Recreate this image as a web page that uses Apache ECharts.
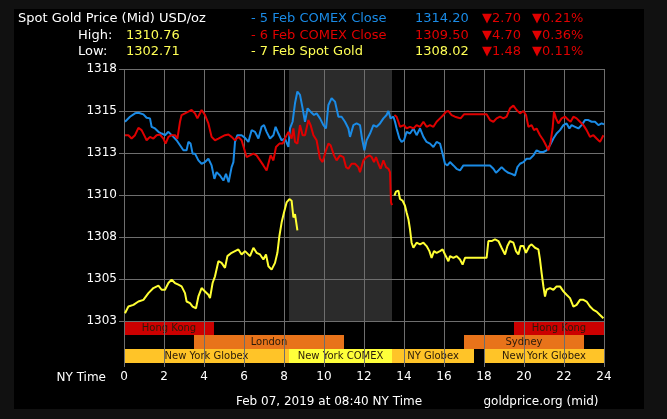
<!DOCTYPE html>
<html>
<head>
<meta charset="utf-8">
<script src="https://cdn.jsdelivr.net/npm/echarts@6/dist/echarts.min.js"></script>
<style>
html,body{margin:0;padding:0;background:#111111;}
#frame{position:absolute;left:14px;top:9px;width:630px;height:400px;background:#000;}
#chart{position:absolute;left:0;top:0;width:667px;height:419px;}
</style>
</head>
<body>
<div id="frame"></div>
<div id="chart"></div>
<script>
// ---- data ----
const hourTicks = [0,2,4,6,8,10,12,14,16,18,20,22,24];
const comex5Feb = [[0.05,1314.36],[0.3,1314.66],[0.55,1314.86],[0.72,1314.9],[0.97,1314.8],[1.13,1314.6],[1.3,1314.56],[1.38,1314.06],[1.55,1313.96],[1.72,1313.76],[1.88,1313.66],[2.05,1313.56],[2.22,1313.76],[2.47,1313.46],[2.63,1313.26],[2.8,1312.96],[2.97,1312.66],[3.13,1312.66],[3.22,1313.16],[3.33,1313.06],[3.43,1312.46],[3.55,1312.46],[3.72,1312.06],[3.88,1311.86],[4.05,1311.96],[4.22,1312.16],[4.38,1311.76],[4.52,1310.96],[4.63,1311.36],[4.8,1311.16],[4.97,1310.86],[5.1,1311.26],[5.23,1310.76],[5.38,1311.66],[5.47,1311.96],[5.55,1313.16],[5.67,1313.56],[5.88,1313.56],[6.05,1313.4],[6.22,1313.16],[6.38,1313.86],[6.55,1313.76],[6.72,1313.36],[6.88,1314.06],[7.0,1314.16],[7.13,1313.76],[7.3,1313.36],[7.47,1313.56],[7.58,1314.06],[7.72,1313.66],[7.88,1313.26],[8.05,1313.36],[8.22,1312.86],[8.3,1313.96],[8.43,1314.36],[8.55,1315.46],[8.67,1316.16],[8.8,1315.96],[8.93,1315.16],[9.05,1314.36],[9.18,1315.16],[9.33,1314.96],[9.5,1314.76],[9.63,1314.86],[9.8,1314.56],[9.97,1314.16],[10.1,1313.96],[10.22,1315.36],[10.38,1315.76],[10.55,1315.56],[10.72,1314.66],[10.88,1314.66],[11.05,1314.36],[11.22,1313.96],[11.3,1313.46],[11.47,1314.16],[11.63,1314.26],[11.8,1314.16],[11.9,1313.36],[12.02,1312.66],[12.13,1313.26],[12.3,1313.66],[12.47,1314.16],[12.63,1314.06],[12.8,1314.26],[12.97,1314.56],[13.13,1314.76],[13.22,1315.0],[13.33,1314.56],[13.47,1314.66],[13.55,1314.36],[13.63,1313.96],[13.77,1313.36],[13.88,1313.16],[14.0,1313.26],[14.13,1313.76],[14.3,1313.66],[14.47,1313.96],[14.63,1313.56],[14.8,1313.96],[14.97,1313.46],[15.13,1313.16],[15.3,1313.06],[15.47,1312.86],[15.63,1313.16],[15.8,1313.06],[15.93,1312.46],[16.05,1311.86],[16.17,1311.76],[16.3,1311.96],[16.47,1311.76],[16.63,1311.56],[16.8,1311.46],[16.97,1311.76],[18.13,1311.76],[18.3,1311.76],[18.47,1311.56],[18.6,1311.32],[18.72,1311.46],[18.88,1311.66],[19.05,1311.46],[19.22,1311.32],[19.38,1311.26],[19.55,1311.16],[19.67,1311.66],[19.8,1311.86],[19.97,1311.96],[20.13,1312.16],[20.3,1312.16],[20.47,1312.36],[20.63,1312.66],[20.8,1312.56],[20.97,1312.56],[21.13,1312.66],[21.3,1312.96],[21.47,1313.36],[21.63,1313.66],[21.8,1313.86],[21.97,1314.16],[22.13,1314.26],[22.27,1313.96],[22.38,1314.16],[22.55,1314.06],[22.72,1313.96],[22.88,1314.16],[23.05,1314.46],[23.22,1314.46],[23.38,1314.36],[23.55,1314.36],[23.72,1314.16],[23.88,1314.26],[24,1314.2]];
const comex6FebA = [[0.05,1313.56],[0.22,1313.56],[0.38,1313.36],[0.55,1313.56],[0.72,1314.0],[0.88,1313.86],[1.05,1313.46],[1.13,1313.26],[1.3,1313.46],[1.47,1313.36],[1.63,1313.56],[1.8,1313.6],[1.97,1313.36],[2.08,1313.06],[2.22,1313.46],[2.38,1313.56],[2.55,1313.56],[2.67,1313.36],[2.8,1314.36],[2.88,1314.76],[3.05,1314.86],[3.22,1314.96],[3.38,1315.06],[3.55,1314.86],[3.67,1314.56],[3.88,1315.06],[4.05,1314.76],[4.22,1314.26],[4.38,1313.46],[4.55,1313.26],[4.72,1313.36],[4.88,1313.46],[5.05,1313.56],[5.22,1313.6],[5.38,1313.46],[5.55,1313.26],[5.72,1313.46],[5.88,1313.26],[5.97,1313.36],[6.13,1312.26],[6.3,1312.36],[6.47,1312.46],[6.63,1312.36],[6.8,1312.06],[6.97,1311.76],[7.13,1311.46],[7.22,1311.36],[7.33,1312.36],[7.47,1312.06],[7.6,1312.86],[7.77,1313.06],[7.93,1313.06],[8.05,1313.36],[8.22,1313.76],[8.38,1313.36],[8.47,1313.96],[8.55,1313.16],[8.67,1313.06],[8.8,1314.16],[8.93,1313.56],[9.05,1313.56],[9.22,1314.46],[9.33,1314.16],[9.47,1313.56],[9.63,1313.26],[9.8,1312.16],[9.93,1311.96],[10.1,1312.66],[10.22,1313.06],[10.33,1312.96],[10.5,1312.36],[10.63,1312.06],[10.8,1312.36],[10.97,1312.26],[11.1,1311.66],[11.22,1311.56],[11.38,1311.86],[11.55,1311.86],[11.72,1311.66],[11.8,1311.36],[11.97,1312.06],[12.13,1312.26],[12.27,1312.36],[12.38,1312.26],[12.5,1311.96],[12.6,1312.26],[12.72,1311.86],[12.83,1311.56],[12.97,1312.06],[13.1,1311.66],[13.22,1311.56],[13.3,1311.36],[13.35,1309.56],[13.4,1309.4]];
const comex6FebB = [[13.52,1314.76],[13.63,1314.66],[13.72,1314.36],[13.8,1314.06],[13.88,1313.96],[14.0,1314.16],[14.13,1313.96],[14.3,1314.06],[14.47,1313.96],[14.63,1314.16],[14.8,1314.06],[14.97,1314.36],[15.13,1314.06],[15.3,1314.16],[15.47,1314.06],[15.63,1314.36],[15.8,1314.56],[15.97,1314.76],[16.1,1314.96],[16.22,1315.0],[16.38,1314.76],[16.55,1314.66],[16.72,1314.6],[16.83,1314.56],[17.0,1314.8],[18.13,1314.8],[18.3,1314.46],[18.47,1314.36],[18.63,1314.56],[18.8,1314.66],[18.97,1314.56],[19.13,1314.66],[19.3,1315.16],[19.47,1315.32],[19.63,1315.06],[19.8,1314.86],[19.97,1315.0],[20.1,1314.76],[20.22,1314.06],[20.38,1314.16],[20.5,1313.86],[20.63,1313.96],[20.8,1313.56],[20.97,1313.26],[21.1,1312.96],[21.22,1312.66],[21.33,1313.16],[21.43,1313.96],[21.5,1314.96],[21.6,1314.56],[21.72,1314.26],[21.88,1314.56],[22.05,1314.66],[22.22,1314.46],[22.33,1314.36],[22.47,1314.66],[22.63,1314.56],[22.8,1314.36],[22.97,1314.16],[23.13,1313.86],[23.3,1313.46],[23.47,1313.56],[23.63,1313.36],[23.8,1313.16],[23.97,1313.56]];
const spot7FebA = [[0.05,1302.96],[0.22,1303.36],[0.47,1303.46],[0.72,1303.66],[0.97,1303.76],[1.22,1304.16],[1.47,1304.46],[1.72,1304.6],[1.88,1304.36],[2.05,1304.36],[2.22,1304.76],[2.38,1304.96],[2.55,1304.76],[2.72,1304.66],[2.88,1304.56],[3.05,1304.16],[3.13,1303.66],[3.3,1303.56],[3.43,1303.36],[3.6,1303.26],[3.72,1303.96],[3.88,1304.46],[4.05,1304.26],[4.22,1304.06],[4.3,1303.86],[4.43,1304.76],[4.55,1305.16],[4.72,1306.06],[4.88,1305.96],[5.05,1305.66],[5.17,1306.36],[5.38,1306.56],[5.55,1306.66],[5.72,1306.76],[5.88,1306.46],[6.05,1306.66],[6.13,1306.56],[6.3,1306.36],[6.47,1306.86],[6.63,1306.56],[6.8,1306.46],[6.97,1306.16],[7.1,1306.46],[7.22,1305.76],[7.38,1305.56],[7.55,1305.96],[7.67,1306.56],[7.77,1307.56],[7.88,1308.36],[8.0,1308.96],[8.13,1309.56],[8.27,1309.76],[8.38,1309.66],[8.47,1308.66],[8.55,1308.86],[8.67,1307.9]];
const spot7FebB = [[13.52,1309.96],[13.6,1310.2],[13.72,1310.26],[13.8,1309.76],[13.93,1309.66],[14.05,1309.36],[14.13,1308.96],[14.22,1308.56],[14.3,1307.96],[14.38,1307.16],[14.47,1306.86],[14.63,1307.16],[14.8,1307.06],[14.97,1307.16],[15.13,1306.96],[15.27,1306.66],[15.38,1306.26],[15.5,1306.66],[15.63,1306.56],[15.8,1306.66],[15.93,1306.76],[16.05,1306.46],[16.22,1306.06],[16.3,1306.36],[16.47,1306.26],[16.63,1306.36],[16.8,1306.16],[16.93,1305.86],[17.05,1306.26],[18.13,1306.26],[18.22,1307.26],[18.38,1307.26],[18.55,1307.36],[18.72,1307.26],[18.88,1306.86],[19.05,1306.46],[19.17,1306.96],[19.3,1307.26],[19.47,1307.16],[19.6,1306.66],[19.72,1306.46],[19.83,1306.96],[19.97,1306.96],[20.1,1306.56],[20.27,1306.96],[20.38,1307.06],[20.55,1306.86],[20.72,1306.76],[20.8,1306.16],[20.88,1305.36],[20.97,1304.56],[21.05,1303.96],[21.13,1304.36],[21.3,1304.46],[21.47,1304.36],[21.63,1304.56],[21.8,1304.56],[21.97,1304.26],[22.13,1304.06],[22.3,1303.86],[22.47,1303.36],[22.63,1303.46],[22.8,1303.76],[22.97,1303.76],[23.13,1303.66],[23.3,1303.36],[23.47,1303.16],[23.63,1303.06],[23.8,1302.86],[23.97,1302.66]];
const comexSession = [8.25, 13.4];
const sessionNames = ['Hong Kong','Hong Kong','London','Sydney','New York Globex','New York COMEX','NY Globex','New York Globex'];
const sessionStart = [0, 19.5, 3.5, 17, 0, 8.25, 13.4, 18];
const sessionEnd   = [4.5, 24, 11, 23, 8.25, 13.4, 17.5, 24];
const sessionRow   = [2, 2, 1, 1, 0, 0, 0, 0];
const yMin = 1302.5, yMax = 1317.5, yStep = 2.5;

// ---- styles ----
const FONT = '"DejaVu Sans", Verdana, sans-serif';
const gridColor = '#6e6e6e';
const BLUE = '#1a8be6', RED = '#e00000', YEL = '#ffff33';
const sessionColor = {'Hong Kong':'#cc0000','London':'#e8731a','Sydney':'#e8731a','New York Globex':'#ffc428','NY Globex':'#ffc428','New York COMEX':'#ffff3a'};

const chart = echarts.init(document.getElementById('chart'), null, {renderer:'canvas'});

function txt(x, y, text, fill, size, align) {
  return {type:'text', x:x, y:y, silent:true, z:10,
    style:{text:text, fill:fill, font: size + 'px ' + FONT, align: align || 'left', verticalAlign:'middle'}};
}

const header = [
  txt(18, 19, 'Spot Gold Price (Mid) USD/oz', '#ffffff', 13),
  txt(78, 35.5, 'High:', '#ffffff', 13),
  txt(126, 35.5, '1310.76', '#ffff55', 13),
  txt(78, 52, 'Low:', '#ffffff', 13),
  txt(126, 52, '1302.71', '#ffff55', 13),
  txt(251, 19, '- 5 Feb COMEX Close', BLUE, 13),
  txt(251, 35.5, '- 6 Feb COMEX Close', RED, 13),
  txt(251, 52, '- 7 Feb Spot Gold', '#ffff55', 13),
  txt(415, 19, '1314.20', BLUE, 13),
  txt(415, 35.5, '1309.50', RED, 13),
  txt(415, 52, '1308.02', '#ffff55', 13),
  txt(482, 19, '▼2.70', RED, 13),
  txt(482, 35.5, '▼4.70', RED, 13),
  txt(482, 52, '▼1.48', RED, 13),
  txt(532, 19, '▼0.21%', RED, 13),
  txt(532, 35.5, '▼0.36%', RED, 13),
  txt(532, 52, '▼0.11%', RED, 13),
  txt(106, 377.5, 'NY Time', '#ffffff', 12, 'right'),
  txt(329, 402, 'Feb 07, 2019 at 08:40 NY Time', '#ffffff', 12, 'center'),
  txt(541, 402, 'goldprice.org (mid)', '#ffffff', 12, 'center')
];

function lineSeries(data, color) {
  return {type:'line', xAxisIndex:0, yAxisIndex:0, data:data, showSymbol:false, symbol:'none',
    lineStyle:{color:color, width:2}, itemStyle:{color:color}, z:3, silent:true, animation:false};
}

const option = {
  backgroundColor:'transparent',
  animation:false,
  graphic: header,
  grid:[
    {left:124, top:69, width:480, height:252, show:false},
    {left:124, top:321, width:480, height:42, show:false}
  ],
  xAxis:[
    {gridIndex:0, type:'value', min:0, max:24, interval:2, z:1,
      axisLabel:{show:false}, axisTick:{show:false}, axisLine:{show:false},
      splitLine:{show:true, lineStyle:{color:gridColor, width:1}}},
    {gridIndex:1, type:'value', min:0, max:24, interval:2, z:1,
      axisLabel:{show:true, color:'#ffffff', fontSize:12, fontFamily:FONT, margin:8,
        formatter: v => hourTicks.indexOf(v) >= 0 ? String(v) : ''},
      axisTick:{show:true, length:4, lineStyle:{color:gridColor}},
      axisLine:{show:false},
      splitLine:{show:true, lineStyle:{color:gridColor, width:1}}}
  ],
  yAxis:[
    {gridIndex:0, type:'value', min:yMin, max:yMax, interval:yStep, z:1,
      axisLabel:{color:'#ffffff', fontSize:12, fontFamily:FONT, margin:7, formatter: v => String(Math.round(v))},
      axisTick:{show:true, length:5, lineStyle:{color:gridColor}},
      axisLine:{show:false},
      splitLine:{show:true, lineStyle:{color:gridColor, width:1}}},
    {gridIndex:1, type:'value', min:0, max:3, show:false}
  ],
  series:[
    {type:'custom', xAxisIndex:0, yAxisIndex:0, z:0, silent:true,
      data:[[comexSession[0], comexSession[1]]],
      renderItem:(params, api) => {
        const p0 = api.coord([api.value(0), yMax]);
        const p1 = api.coord([api.value(1), yMin]);
        return {type:'rect', shape:{x:p0[0], y:p0[1], width:p1[0]-p0[0], height:p1[1]-p0[1]}, style:{fill:'#2b2b2b'}};
      }},
    {type:'custom', xAxisIndex:1, yAxisIndex:1, z:0, silent:true,
      data: sessionStart.map((s,i) => [s, sessionEnd[i], sessionRow[i]]),
      renderItem:(params, api) => {
        const p0 = api.coord([api.value(0), api.value(2)+1]);
        const p1 = api.coord([api.value(1), api.value(2)]);
        const name = sessionNames[params.dataIndex];
        return {type:'group', children:[
          {type:'rect', shape:{x:p0[0], y:p0[1], width:p1[0]-p0[0], height:p1[1]-p0[1]}, style:{fill:sessionColor[name]}},
          {type:'text', x:(p0[0]+p1[0])/2, y:(p0[1]+p1[1])/2+0.5,
            style:{text:name, fill:'#2a1a0a', font:'10px ' + FONT, align:'center', verticalAlign:'middle'}}
        ]};
      }},
    lineSeries(comex5Feb, BLUE),
    lineSeries(comex6FebA, RED),
    lineSeries(comex6FebB, RED),
    lineSeries(spot7FebA, YEL),
    lineSeries(spot7FebB, YEL)
  ]
};
chart.setOption(option);
</script>
</body>
</html>
